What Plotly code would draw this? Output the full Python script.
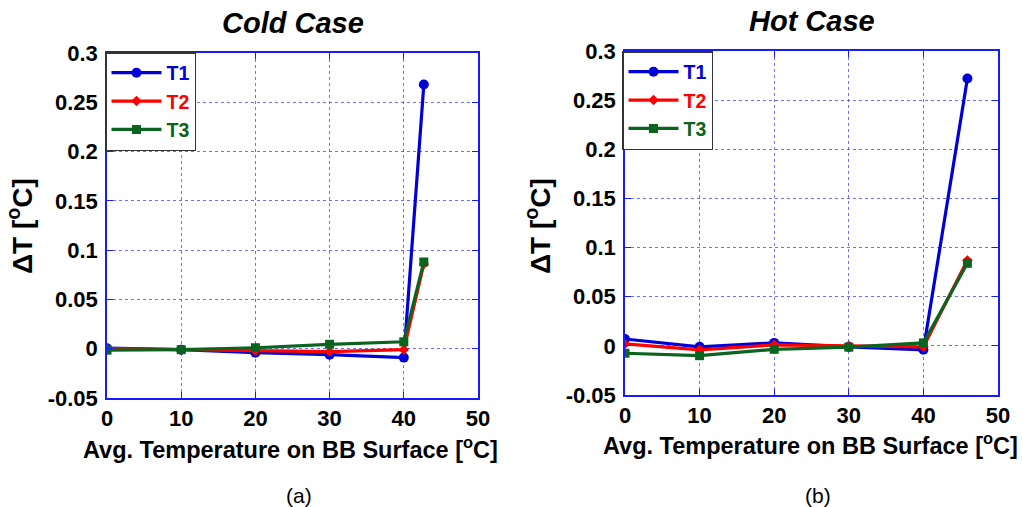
import plotly.graph_objects as go

# Surface temperatures (°C) for each case
x_cold = [0, 10, 20, 30, 40, 42.7]
x_hot = [0, 10, 20, 30, 40, 45.9]

# Temperature differences ΔT (°C) – Cold Case
cold_t1 = [0.0005, -0.001, -0.004, -0.006, -0.009, 0.268]
cold_t2 = [0.0, -0.001, -0.002, -0.003, -0.001, 0.086]
cold_t3 = [-0.0015, -0.001, 0.001, 0.0045, 0.007, 0.088]

# Temperature differences ΔT (°C) – Hot Case
hot_t1 = [0.007, -0.001, 0.003, -0.001, -0.004, 0.272]
hot_t2 = [0.002, -0.004, 0.001, 0.0, -0.001, 0.087]
hot_t3 = [-0.0075, -0.010, -0.0035, -0.0013, 0.003, 0.084]

x_ticks = [0, 10, 20, 30, 40, 50]
y_ticks = [-0.05, 0, 0.05, 0.1, 0.15, 0.2, 0.25, 0.3]
y_tick_text = ["-0.05", "0", "0.05", "0.1", "0.15", "0.2", "0.25", "0.3"]

BLUE = "#0000d8"
RED = "#ff0000"
GREEN = "#0a6420"
FONT = "Arial, Liberation Sans, sans-serif"

W, H = 1023, 507

series_style = [
    ("T1", BLUE, "circle", 10),
    ("T2", RED, "diamond", 8),
    ("T3", GREEN, "square", 9),
]

fig = go.Figure()

panels = [
    ("x", "y", "legend", x_cold, [cold_t1, cold_t2, cold_t3]),
    ("x2", "y2", "legend2", x_hot, [hot_t1, hot_t2, hot_t3]),
]

for xa, ya, leg, xs, ys_list in panels:
    for (name, color, symbol, size), ys in zip(series_style, ys_list):
        fig.add_trace(go.Scatter(
            x=xs, y=ys, xaxis=xa, yaxis=ya, legend=leg,
            mode="lines+markers",
            name=f"<span style='color:{color}'><b>{name}</b></span>",
            line=dict(color=color, width=3.2),
            marker=dict(symbol=symbol, size=size, color=color),
        ))


def px_x(v):
    return v / W


def px_y(v):
    return 1 - v / H


axis_common = dict(
    showline=True, linecolor="#1a1aff", linewidth=1.6, mirror="ticks",
    ticks="inside", ticklen=6, tickcolor="#1a1aff", tickwidth=1.3,
    showgrid=True, gridcolor="rgba(60,60,255,0.75)", gridwidth=1, griddash="dot",
    zeroline=False, automargin=False,
    tickfont=dict(family=FONT, size=22, color="black", weight="bold"),
)

legend_common = dict(
    xanchor="left", yanchor="top",
    bgcolor="white", bordercolor="#333333", borderwidth=1.5,
    font=dict(family=FONT, size=19.5), tracegroupgap=0, itemwidth=50,
)

fig.update_layout(
    width=W, height=H,
    margin=dict(l=0, r=0, t=0, b=0, autoexpand=False),
    paper_bgcolor="white", plot_bgcolor="white",
    xaxis=dict(domain=[px_x(107), px_x(478)], range=[0, 50], tickvals=x_ticks,
               anchor="y", **axis_common),
    yaxis=dict(domain=[px_y(398), px_y(53)], range=[-0.05, 0.3], tickvals=y_ticks,
               ticktext=y_tick_text, anchor="x", ticklabelstandoff=3, **axis_common),
    xaxis2=dict(domain=[px_x(625), px_x(998)], range=[0, 50], tickvals=x_ticks,
                anchor="y2", **axis_common),
    yaxis2=dict(domain=[px_y(395), px_y(51)], range=[-0.05, 0.3], tickvals=y_ticks,
                ticktext=y_tick_text, anchor="x2", ticklabelstandoff=3, **axis_common),
    legend=dict(x=px_x(105), y=px_y(52), **legend_common),
    legend2=dict(x=px_x(622), y=px_y(51), **legend_common),
    showlegend=True,
)

annotations = [
    dict(text="<b><i>Cold Case</i></b>", x=293, y=23, size=29),
    dict(text="<b><i>Hot Case</i></b>", x=812, y=21, size=29),
    dict(text="<b>Avg. Temperature on BB Surface [<sup>o</sup>C]</b>", x=290, y=448, size=23.5),
    dict(text="<b>Avg. Temperature on BB Surface [<sup>o</sup>C]</b>", x=810, y=444, size=23.5),
    dict(text="(a)", x=299, y=495, size=21),
    dict(text="(b)", x=818, y=495, size=21),
]
for a in annotations:
    fig.add_annotation(text=a["text"], x=px_x(a["x"]), y=px_y(a["y"]),
                       xref="paper", yref="paper",
                       xanchor="center", yanchor="middle", showarrow=False,
                       font=dict(family=FONT, size=a["size"], color="black"))

for xc in (20, 538):
    fig.add_annotation(text="<b>ΔT [<sup>o</sup>C]</b>", x=px_x(xc), y=px_y(226),
                       xref="paper", yref="paper", textangle=-90,
                       xanchor="center", yanchor="middle", showarrow=False,
                       font=dict(family=FONT, size=28, color="black"))

fig.write_html("out.html")
